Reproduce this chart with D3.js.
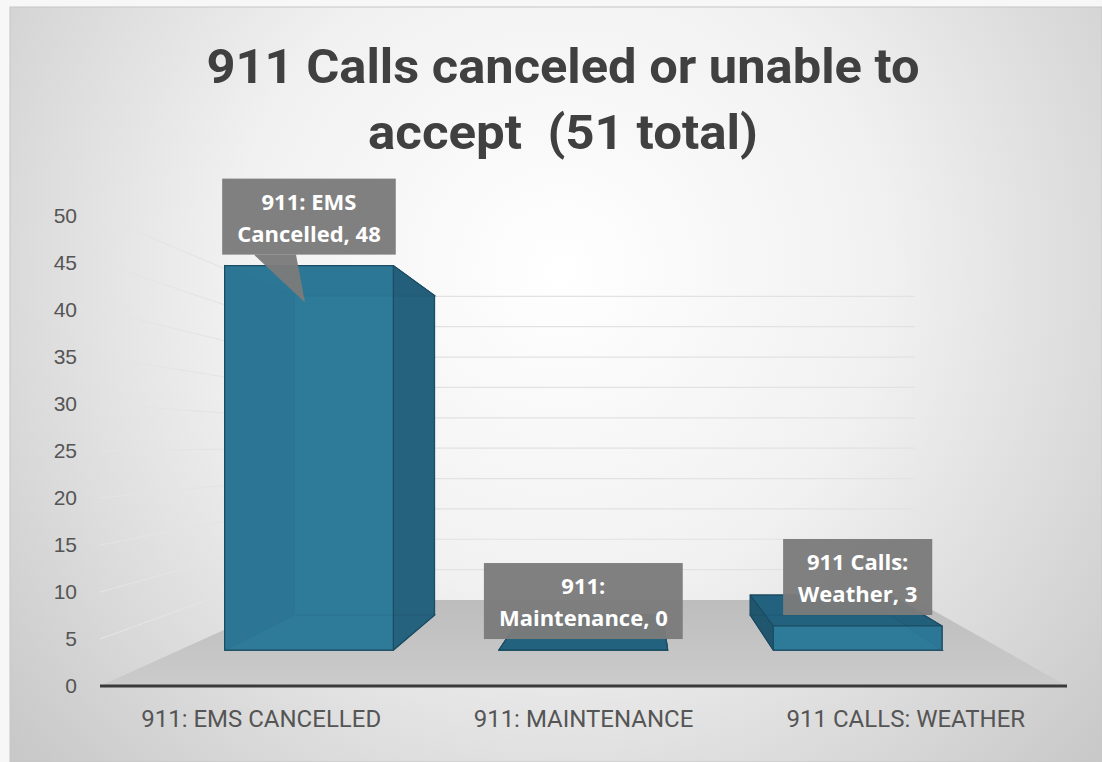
<!DOCTYPE html>
<html>
<head>
<meta charset="utf-8">
<script src="https://cdn.jsdelivr.net/npm/d3@7"></script>
<style>
  body { margin: 0; background: #f6f6f6; }
  svg { display: block; }
</style>
</head>
<body>
<svg id="chart" width="1102" height="762"></svg>
<script>
// data
var categories = ['911: EMS Cancelled', '911: Maintenance', '911 Calls: Weather'];
var values = [48, 0, 3];
var axisLabels = ['911: EMS CANCELLED', '911: MAINTENANCE', '911 CALLS: WEATHER'];
var yTicks = [0, 5, 10, 15, 20, 25, 30, 35, 40, 45, 50];
var titleLines = ['911 Calls canceled or unable to', 'accept  (51 total)'];

var svg = d3.select('#chart');
var W = 1102, H = 762;

// 3d view: everything is given in "front plane" coords and pushed back toward the vanishing point
var vp = {x: 637, y: 443};
var depthK = 0.548;
var zFront = 0.317, zBack = 0.752;

function project(xf, yf, z) {
	var s = 1 / (1 + depthK * z);
	return [vp.x + s * (xf - vp.x), vp.y + s * (yf - vp.y)];
}

var y = d3.scaleLinear().domain([0, 50]).range([686, 216]);
var xFloor = d3.scaleBand().domain(categories).range([100, 1067]);
var xBar = d3.scaleBand().domain(categories).range([91, 1057])
	.paddingInner(0.385).paddingOuter(0.1925);

// background
var defs = svg.append('defs');
var bg = defs.append('radialGradient').attr('id', 'bg')
	.attr('gradientUnits', 'userSpaceOnUse')
	.attr('cx', 560).attr('cy', 270).attr('r', 720);
bg.append('stop').attr('offset', 0).attr('stop-color', '#ffffff');
bg.append('stop').attr('offset', 0.45).attr('stop-color', '#f1f1f1');
bg.append('stop').attr('offset', 1).attr('stop-color', '#c9c9c9');

var floorGrad = defs.append('linearGradient').attr('id', 'floorGrad')
	.attr('x1', 0).attr('y1', 0).attr('x2', 0).attr('y2', 1);
floorGrad.append('stop').attr('offset', 0).attr('stop-color', '#bdbdbd');
floorGrad.append('stop').attr('offset', 1).attr('stop-color', '#cbcbcb');

svg.append('rect').attr('width', W).attr('height', H).attr('fill', '#f7f7f7');
svg.append('rect')
	.attr('x', 10).attr('y', 7).attr('width', W - 10).attr('height', H - 7)
	.attr('fill', 'url(#bg)')
	.attr('stroke', '#c6c6c6');

// title
svg.append('g').selectAll('text')
	.data(titleLines)
	.enter().append('text')
	.attr('x', 563)
	.attr('y', function(d, i) { return 83 + i * 66; })
	.attr('text-anchor', 'middle')
	.attr('textLength', function(d, i) { return i === 0 ? 713 : 390; })
	.attr('lengthAdjust', 'spacingAndGlyphs')
	.style('white-space', 'pre')
	.style('font-family', 'Roboto, sans-serif')
	.style('font-weight', 700)
	.style('font-size', '49px')
	.style('fill', '#404040')
	.text(function(d) { return d; });

// floor
var x0 = xFloor.range()[0], x1 = xFloor.range()[1], y0 = y(0);
var floorPts = [project(x0, y0, 0), project(x1, y0, 0), project(x1, y0, 1), project(x0, y0, 1)];
svg.append('polygon')
	.attr('points', floorPts.map(function(p) { return p.join(','); }).join(' '))
	.attr('fill', 'url(#floorGrad)');

// wall gridlines, very faint
var grid = svg.append('g').attr('class', 'grid');
yTicks.filter(function(v) { return v > 0; }).forEach(function(v) {
	var a = project(x0, y(v), 0), b = project(x0, y(v), 1), c = project(x1, y(v), 1);
	grid.append('line')
		.attr('x1', a[0]).attr('y1', a[1]).attr('x2', b[0]).attr('y2', b[1])
		.attr('stroke', '#e4e4e4').attr('stroke-width', 1.2);
	grid.append('line')
		.attr('x1', b[0]).attr('y1', b[1]).attr('x2', c[0]).attr('y2', c[1])
		.attr('stroke', '#e2e2e2').attr('stroke-width', 1.2);
});

// axis line at the front of the floor
svg.append('line')
	.attr('x1', x0).attr('x2', x1).attr('y1', y0).attr('y2', y0)
	.attr('stroke', '#3a3a3a').attr('stroke-width', 3);

// y axis labels
var yAxis = svg.append('g')
	.attr('transform', 'translate(85,0)')
	.call(d3.axisLeft(y).tickValues(yTicks).tickSize(0).tickPadding(8));
yAxis.select('.domain').remove();
yAxis.selectAll('text')
	.style('font-family', '"Liberation Sans", Arial, sans-serif')
	.style('font-size', '21px')
	.style('fill', '#555555');

// x axis labels
var xAxis = svg.append('g')
	.attr('transform', 'translate(0,' + y0 + ')')
	.call(d3.axisBottom(xFloor).tickSize(0).tickPadding(24)
		.tickFormat(function(d, i) { return axisLabels[i]; }));
xAxis.select('.domain').remove();
xAxis.selectAll('text')
	.style('font-family', 'Roboto, sans-serif')
	.style('font-size', '24px')
	.style('fill', '#555555');

// bars as 3d boxes
var faceColor = {front: '#2f7b9b', back: '#2a7090', left: '#1f526a', right: '#245f7a', top: '#225f7b', bottom: '#2a7090'};

var bars = svg.append('g').attr('class', 'bars');

categories.forEach(function(c, i) {
	var xl = xBar(c), xr = xl + xBar.bandwidth();
	var yb = y(0), yt = y(values[i]);

	function q(pts) { return pts.map(function(p) { return project(p[0], p[1], p[2]).join(','); }).join(' '); }

	var faces = [
		{k: 'back', pts: [[xl, yb, zBack], [xr, yb, zBack], [xr, yt, zBack], [xl, yt, zBack]], vis: false},
		{k: 'bottom', pts: [[xl, yb, zFront], [xr, yb, zFront], [xr, yb, zBack], [xl, yb, zBack]], vis: yb < vp.y},
		{k: 'left', pts: [[xl, yb, zFront], [xl, yt, zFront], [xl, yt, zBack], [xl, yb, zBack]], vis: vp.x < xl},
		{k: 'right', pts: [[xr, yb, zFront], [xr, yt, zFront], [xr, yt, zBack], [xr, yb, zBack]], vis: vp.x > xr},
		{k: 'top', pts: [[xl, yt, zFront], [xr, yt, zFront], [xr, yt, zBack], [xl, yt, zBack]], vis: yt > vp.y},
		{k: 'front', pts: [[xl, yb, zFront], [xr, yb, zFront], [xr, yt, zFront], [xl, yt, zFront]], vis: true}
	];

	// hidden faces first so their edges show through the see-through front
	faces.filter(function(f) { return !f.vis; }).forEach(function(f) {
		bars.append('polygon')
			.attr('points', q(f.pts))
			.attr('fill', faceColor[f.k])
			.attr('stroke', '#1a4a60').attr('stroke-width', 1.2);
	});
	faces.filter(function(f) { return f.vis; }).forEach(function(f) {
		bars.append('polygon')
			.attr('points', q(f.pts))
			.attr('fill', faceColor[f.k]).attr('fill-opacity', 0.86)
			.attr('stroke', '#1b4d64').attr('stroke-width', 1.2)
			.attr('stroke-linejoin', 'round');
	});
});

// data label callouts
var labels = svg.append('g').attr('class', 'labels');

categories.forEach(function(c, i) {
	var words = c.split(' ');
	var lines = [words.slice(0, -1).join(' '), words[words.length - 1] + ', ' + values[i]];

	var xl = xBar(c), xr = xl + xBar.bandwidth();
	var frontL = project(xl, y(values[i]), zFront), frontR = project(xr, y(values[i]), zFront);
	var backTop = project(xl, y(values[i]), zBack)[1];
	var cx = (frontL[0] + frontR[0]) / 2;
	var boxBottom = frontL[1] - 11, boxTop = boxBottom - 76;

	var g = labels.append('g');
	var box = g.append('rect').attr('fill', '#7b7b7b').attr('fill-opacity', 0.96);
	var pointer = g.append('polygon').attr('fill', '#7b7b7b').attr('fill-opacity', 0.96);

	var t = g.selectAll('text')
		.data(lines)
		.enter().append('text')
		.attr('x', cx)
		.attr('y', function(d, j) { return boxTop + 31 + j * 32; })
		.attr('text-anchor', 'middle')
		.style('font-family', '"Open Sans", sans-serif')
		.style('font-weight', 700)
		.style('font-size', '22px')
		.style('fill', '#ffffff')
		.text(function(d) { return d; });

	var wMax = 0;
	t.each(function() { wMax = Math.max(wMax, this.getComputedTextLength()); });
	var bw = wMax + 30;
	box.attr('x', cx - bw / 2).attr('y', boxTop).attr('width', bw).attr('height', boxBottom - boxTop);

	// only the tall bar has its point far enough below the box to need an arrow
	var tipY = backTop + 7;
	if(tipY > boxBottom + 5) {
		pointer.attr('points', [[cx - 55, boxBottom], [cx - 13, boxBottom], [cx - 4, tipY]].join(' '));
	}
	else {
		pointer.remove();
	}
});
</script>
</body>
</html>
